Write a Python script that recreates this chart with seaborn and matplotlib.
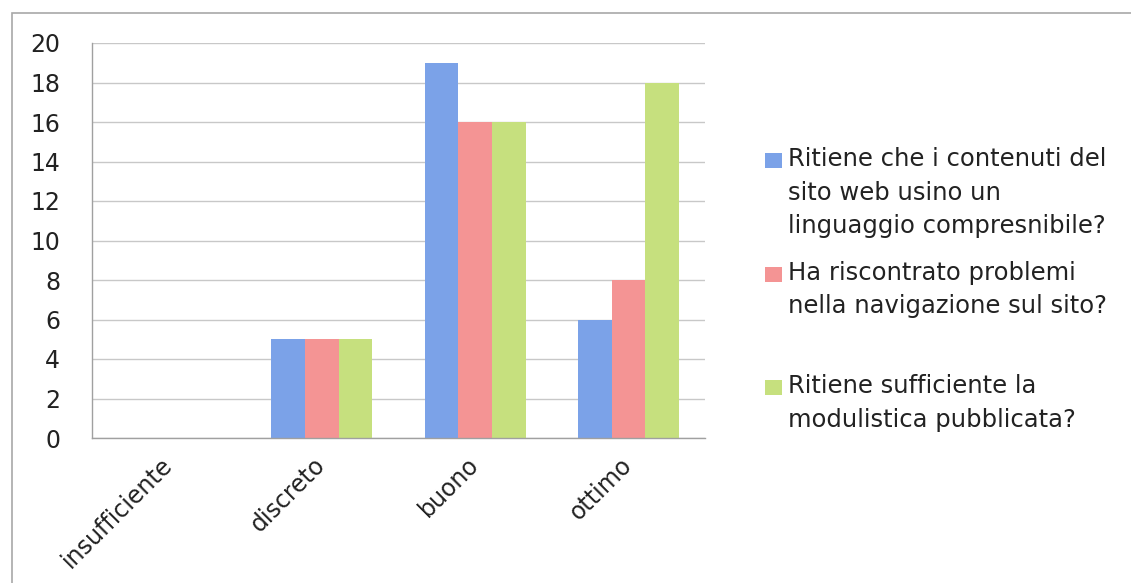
import matplotlib
matplotlib.use("Agg")
import matplotlib.pyplot as plt
import matplotlib.transforms as mtransforms
import seaborn as sns
import pandas as pd
from matplotlib.patches import Rectangle

categories = ["insufficiente", "discreto", "buono", "ottimo"]
series_names = [
    "Ritiene che i contenuti del\nsito web usino un\nlinguaggio compresnibile?",
    "Ha riscontrato problemi\nnella navigazione sul sito?",
    "Ritiene sufficiente la\nmodulistica pubblicata?",
]
linguaggio = [0, 5, 19, 6]
navigazione = [0, 5, 16, 8]
modulistica = [0, 5, 16, 18]
colors = ["#7BA2E8", "#F49494", "#C6E07E"]

rows = []
for name, vals in zip(series_names, [linguaggio, navigazione, modulistica]):
    for c, v in zip(categories, vals):
        rows.append({"cat": c, "serie": name, "val": v})
df = pd.DataFrame(rows)

sns.set_style("white")
plt.rcParams["font.family"] = ["DejaVu Sans"]

W, H = 1131, 583
fig = plt.figure(figsize=(W/100, H/100), dpi=100)
ax = fig.add_axes([92/W, 1-438/H, (705-92)/W, (438-43)/H])

sns.barplot(data=df, x="cat", y="val", hue="serie", order=categories,
            hue_order=series_names, palette=colors, width=0.66, gap=0,
            saturation=1, ax=ax, legend=False, linewidth=0)

ax.set_ylim(0, 20)
ax.set_yticks(range(0, 21, 2))
ax.set_xlim(-0.5, 3.5)
ax.set_xlabel("")
ax.set_ylabel("")
ax.grid(axis="y", color="#c8c8c8", linewidth=1)
ax.set_axisbelow(True)
for s in ["top", "right"]:
    ax.spines[s].set_visible(False)
for s in ["left", "bottom"]:
    ax.spines[s].set_color("#a0a0a0")
    ax.spines[s].set_linewidth(1)

ax.set_xticks([0, 1, 2, 3])
ax.set_xticklabels(categories, rotation=45, ha="right", rotation_mode="anchor",
                   fontsize=17, color="#222222")
ax.tick_params(axis="x", length=0, pad=12)
ax.tick_params(axis="y", length=5, color="#c8c8c8", labelsize=17,
               labelcolor="#222222", pad=18)
ax.set_xticks([-0.5, 0.5, 1.5, 2.5, 3.5], minor=True)
ax.tick_params(axis="x", which="minor", length=6, color="#a0a0a0", direction="out")

offset = mtransforms.ScaledTranslation(-9/100, 2/100, fig.dpi_scale_trans)
for lab in ax.get_xticklabels():
    lab.set_transform(lab.get_transform() + offset)

# legend (Excel style: marker at first line of each entry)
leg_first_line_y = [164, 278, 391]
for name, col, yy in zip(series_names, colors, leg_first_line_y):
    fig.patches.append(Rectangle((765/W, 1-(yy+4)/H), 17/W, 15/H,
                                 transform=fig.transFigure, facecolor=col,
                                 edgecolor="none"))
    fig.text(788/W, 1-(yy-17)/H, name, ha="left", va="top", fontsize=17.5,
             color="#222222", linespacing=1.5)

fig.patches.append(Rectangle((12/W, -0.05), 1.2, 1-13/H+0.05,
                             transform=fig.transFigure, fill=False,
                             edgecolor="#a8a8a8", linewidth=1.2))

fig.savefig("out.png", dpi=100)
